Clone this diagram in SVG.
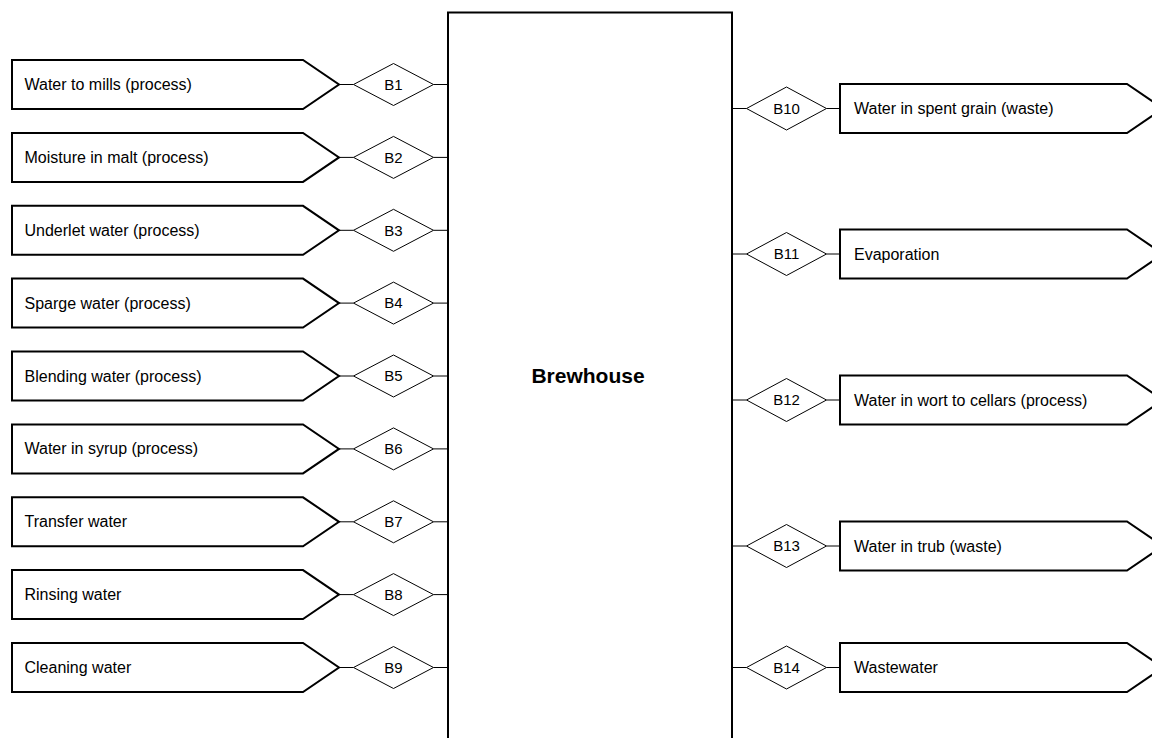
<svg xmlns="http://www.w3.org/2000/svg" width="1152" height="738" viewBox="0 0 1152 738">
<style>
.shape{fill:#fff;stroke:#000;stroke-width:2;stroke-linejoin:miter}
.dia{fill:#fff;stroke:#000;stroke-width:1}
.conn{stroke:#000;stroke-width:1;fill:none}
.lbl{font-family:"Liberation Sans",Arial,sans-serif;font-size:16px;fill:#000}
.dl{font-family:"Liberation Sans",Arial,sans-serif;font-size:15px;fill:#000;text-anchor:middle}
.title{font-family:"Liberation Sans",Arial,sans-serif;font-size:21px;font-weight:bold;fill:#000;text-anchor:middle}
</style>
<defs>
<polygon id="inShape" points="12,-24.5 303,-24.5 339,0 303,24.5 12,24.5"/>
<polygon id="outShape" points="840,-24.5 1127,-24.5 1163,0 1127,24.5 840,24.5"/>
<polygon id="diaL" points="353.5,0 393.5,-21 433.5,0 393.5,21"/>
<polygon id="diaR" points="746.5,0 786.5,-21.5 826.5,0 786.5,21.5"/>
</defs>
<g id="connectors">
<path class="conn" d="M339,84.5H353.5M433.5,84.5H448M339,157.4H353.5M433.5,157.4H448M339,230.3H353.5M433.5,230.3H448M339,303.1H353.5M433.5,303.1H448M339,376H353.5M433.5,376H448M339,448.9H353.5M433.5,448.9H448M339,521.8H353.5M433.5,521.8H448M339,594.6H353.5M433.5,594.6H448M339,667.5H353.5M433.5,667.5H448"/>
<path class="conn" d="M732,108.5H746.5M826.5,108.5H840M732,254H746.5M826.5,254H840M732,400H746.5M826.5,400H840M732,546H746.5M826.5,546H840M732,667.5H746.5M826.5,667.5H840"/>
</g>
<g id="brewhouse">
<rect x="448" y="12.5" width="284" height="740" fill="#fff" stroke="#000" stroke-width="2"/>
<text class="title" x="588" y="383">Brewhouse</text>
</g>
<g id="in1" transform="translate(0,84.5)"><use href="#inShape" class="shape"/><text class="lbl" x="24.5" y="5.5">Water to mills (process)</text></g>
<g id="in2" transform="translate(0,157.4)"><use href="#inShape" class="shape"/><text class="lbl" x="24.5" y="5.5">Moisture in malt (process)</text></g>
<g id="in3" transform="translate(0,230.3)"><use href="#inShape" class="shape"/><text class="lbl" x="24.5" y="5.5">Underlet water (process)</text></g>
<g id="in4" transform="translate(0,303.1)"><use href="#inShape" class="shape"/><text class="lbl" x="24.5" y="5.5">Sparge water (process)</text></g>
<g id="in5" transform="translate(0,376)"><use href="#inShape" class="shape"/><text class="lbl" x="24.5" y="5.5">Blending water (process)</text></g>
<g id="in6" transform="translate(0,448.9)"><use href="#inShape" class="shape"/><text class="lbl" x="24.5" y="5.5">Water in syrup (process)</text></g>
<g id="in7" transform="translate(0,521.8)"><use href="#inShape" class="shape"/><text class="lbl" x="24.5" y="5.5">Transfer water</text></g>
<g id="in8" transform="translate(0,594.6)"><use href="#inShape" class="shape"/><text class="lbl" x="24.5" y="5.5">Rinsing water</text></g>
<g id="in9" transform="translate(0,667.5)"><use href="#inShape" class="shape"/><text class="lbl" x="24.5" y="5.5">Cleaning water</text></g>
<g id="B1" transform="translate(0,84.5)"><use href="#diaL" class="dia"/><text class="dl" x="393.5" y="5.3">B1</text></g>
<g id="B2" transform="translate(0,157.4)"><use href="#diaL" class="dia"/><text class="dl" x="393.5" y="5.3">B2</text></g>
<g id="B3" transform="translate(0,230.3)"><use href="#diaL" class="dia"/><text class="dl" x="393.5" y="5.3">B3</text></g>
<g id="B4" transform="translate(0,303.1)"><use href="#diaL" class="dia"/><text class="dl" x="393.5" y="5.3">B4</text></g>
<g id="B5" transform="translate(0,376)"><use href="#diaL" class="dia"/><text class="dl" x="393.5" y="5.3">B5</text></g>
<g id="B6" transform="translate(0,448.9)"><use href="#diaL" class="dia"/><text class="dl" x="393.5" y="5.3">B6</text></g>
<g id="B7" transform="translate(0,521.8)"><use href="#diaL" class="dia"/><text class="dl" x="393.5" y="5.3">B7</text></g>
<g id="B8" transform="translate(0,594.6)"><use href="#diaL" class="dia"/><text class="dl" x="393.5" y="5.3">B8</text></g>
<g id="B9" transform="translate(0,667.5)"><use href="#diaL" class="dia"/><text class="dl" x="393.5" y="5.3">B9</text></g>
<g id="B10" transform="translate(0,108.5)"><use href="#diaR" class="dia"/><text class="dl" x="786.5" y="5.3">B10</text></g>
<g id="B11" transform="translate(0,254)"><use href="#diaR" class="dia"/><text class="dl" x="786.5" y="5.3">B11</text></g>
<g id="B12" transform="translate(0,400)"><use href="#diaR" class="dia"/><text class="dl" x="786.5" y="5.3">B12</text></g>
<g id="B13" transform="translate(0,546)"><use href="#diaR" class="dia"/><text class="dl" x="786.5" y="5.3">B13</text></g>
<g id="B14" transform="translate(0,667.5)"><use href="#diaR" class="dia"/><text class="dl" x="786.5" y="5.3">B14</text></g>
<g id="out10" transform="translate(0,108.5)"><use href="#outShape" class="shape"/><text class="lbl" x="854" y="5.5">Water in spent grain (waste)</text></g>
<g id="out11" transform="translate(0,254)"><use href="#outShape" class="shape"/><text class="lbl" x="854" y="5.5">Evaporation</text></g>
<g id="out12" transform="translate(0,400)"><use href="#outShape" class="shape"/><text class="lbl" x="854" y="5.5">Water in wort to cellars (process)</text></g>
<g id="out13" transform="translate(0,546)"><use href="#outShape" class="shape"/><text class="lbl" x="854" y="5.5">Water in trub (waste)</text></g>
<g id="out14" transform="translate(0,667.5)"><use href="#outShape" class="shape"/><text class="lbl" x="854" y="5.5">Wastewater</text></g>
</svg>
